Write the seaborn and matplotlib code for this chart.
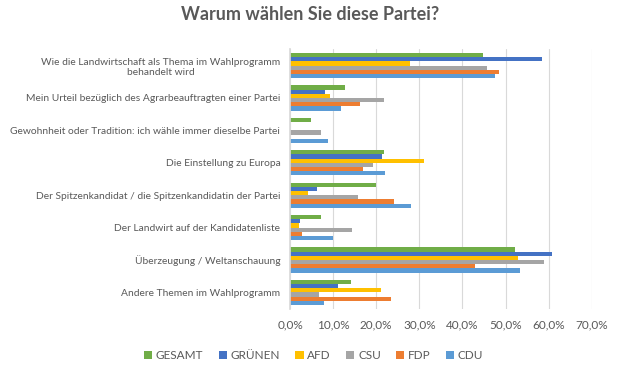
import pandas as pd
import seaborn as sns
import matplotlib.pyplot as plt
from matplotlib.ticker import FuncFormatter

categories = [
    "Wie die Landwirtschaft als Thema im Wahlprogramm\nbehandelt wird",
    "Mein Urteil bezüglich des Agrarbeauftragten einer Partei",
    "Gewohnheit oder Tradition: ich wähle immer dieselbe Partei",
    "Die Einstellung zu Europa",
    "Der Spitzenkandidat / die Spitzenkandidatin der Partei",
    "Der Landwirt auf der Kandidatenliste",
    "Überzeugung / Weltanschauung",
    "Andere Themen im Wahlprogramm",
]

parties = ["GESAMT", "GRÜNEN", "AFD", "CSU", "FDP", "CDU"]

gesamt = [0.447, 0.128, 0.049, 0.218, 0.200, 0.073, 0.522, 0.142]
gruenen = [0.584, 0.081, 0.0, 0.213, 0.063, 0.023, 0.608, 0.111]
afd = [0.278, 0.093, 0.0, 0.311, 0.042, 0.021, 0.529, 0.211]
csu = [0.456, 0.218, 0.072, 0.193, 0.158, 0.144, 0.589, 0.067]
fdp = [0.484, 0.162, 0.0, 0.169, 0.241, 0.028, 0.428, 0.234]
cdu = [0.475, 0.118, 0.088, 0.220, 0.281, 0.100, 0.534, 0.079]

colors = ["#70AD47", "#4472C4", "#FFC000", "#A5A5A5", "#ED7D31", "#5B9BD5"]


def build_frame() -> pd.DataFrame:
    series = [gesamt, gruenen, afd, csu, fdp, cdu]
    rows = []
    for party, values in zip(parties, series):
        for cat, v in zip(categories, values):
            rows.append({"Kategorie": cat, "Partei": party, "Anteil": v})
    return pd.DataFrame(rows)


def main() -> None:
    df = build_frame()

    sns.set_theme(style="white")
    plt.rcParams["font.family"] = ["Lato", "DejaVu Sans"]
    text_color = "#595959"

    fig = plt.figure(figsize=(6.21, 3.74), dpi=100)
    ax = fig.add_axes([0.467, 0.175, 0.486, 0.693])

    sns.barplot(
        data=df,
        y="Kategorie",
        x="Anteil",
        hue="Partei",
        hue_order=parties,
        order=categories,
        palette=colors,
        orient="h",
        width=0.78,
        ax=ax,
        saturation=1,
        linewidth=0,
        edgecolor="none",
    )

    ax.set_xlim(0, 0.7)
    ax.set_xticks([i / 10 for i in range(8)])
    ax.xaxis.set_major_formatter(
        FuncFormatter(lambda v, _: f"{v * 100:.1f}%".replace(".", ","))
    )
    ax.grid(axis="x", color="#D9D9D9", linewidth=0.8)
    ax.set_axisbelow(True)
    for side in ["top", "right", "bottom"]:
        ax.spines[side].set_visible(False)
    ax.spines["left"].set_color("#D9D9D9")
    ax.set_xlabel("")
    ax.set_ylabel("")
    ax.tick_params(axis="x", labelsize=8.5, colors=text_color, pad=8, length=0)
    ax.tick_params(axis="y", labelsize=7.4, colors=text_color, length=0, pad=7)
    for lbl in ax.get_yticklabels():
        lbl.set_multialignment("center")

    handles, labels = ax.get_legend_handles_labels()
    ax.get_legend().remove()
    leg = fig.legend(
        handles,
        labels,
        loc="center",
        bbox_to_anchor=(0.505, 0.05),
        ncol=6,
        frameon=False,
        fontsize=8.5,
        handlelength=0.7,
        handleheight=0.7,
        handletextpad=0.3,
        columnspacing=1.3,
    )
    for t in leg.get_texts():
        t.set_color(text_color)

    fig.suptitle(
        "Warum wählen Sie diese Partei?",
        x=0.5,
        y=0.985,
        fontsize=13,
        fontweight="bold",
        color=text_color,
    )

    fig.savefig("out.png", dpi=100)


if __name__ == "__main__":
    main()
